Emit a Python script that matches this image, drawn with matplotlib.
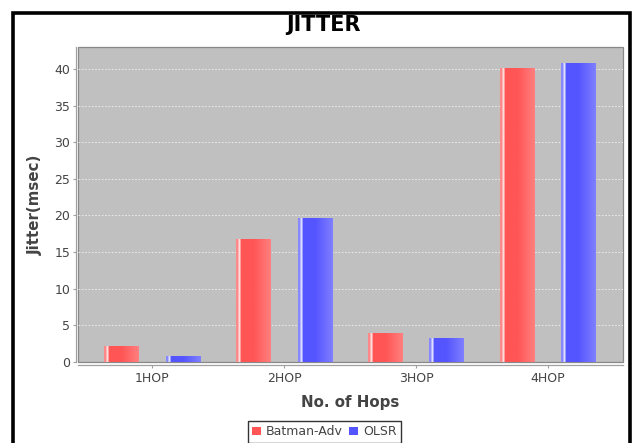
import numpy as np
import matplotlib
matplotlib.use("Agg")
import matplotlib.pyplot as plt
from matplotlib.patches import Rectangle, Patch
from matplotlib.colors import to_rgb

# data
hops = ["1HOP", "2HOP", "3HOP", "4HOP"]
batman = [2.05, 16.7, 3.95, 40.05]
olsr = [0.7, 19.65, 3.15, 40.8]
series_names = ["Batman-Adv", "OLSR"]
series_colors = ["#ff5555", "#5555ff"]

W, H = 638, 443
fig = plt.figure(figsize=(W / 100, H / 100), dpi=100)

ax = fig.add_axes([78.3 / W, 1 - 362 / H, (623 - 78.3) / W, (362 - 47.3) / H])
ax.set_facecolor("#c0c0c0")
ax.patch.set_edgecolor("#888888")
ax.patch.set_linewidth(0.9)


def gradient(color):
    base = np.array(to_rgb(color))
    white = np.ones(3)
    u = np.linspace(0, 1, 200)
    mix = np.zeros_like(u)
    mix[u < 0.07] = 0.3
    mix[(u >= 0.07) & (u < 0.13)] = 0.8
    mix[(u >= 0.13) & (u < 0.5)] = 0.0
    right = u >= 0.5
    mix[right] = (u[right] - 0.5) / 0.5 * 0.25
    rgb = base[None, :] * (1 - mix[:, None]) + white[None, :] * mix[:, None]
    return rgb[None, :, :]


x = np.arange(len(hops))
width = 0.261
offset = 0.233
for vals, off, col in [(batman, -offset, series_colors[0]), (olsr, offset, series_colors[1])]:
    bars = ax.bar(x + off, vals, width, color=col, zorder=2)
    img = gradient(col)
    for p in bars:
        x0, w, h = p.get_x(), p.get_width(), p.get_height()
        ax.imshow(img, extent=[x0, x0 + w, 0, h], aspect="auto",
                  interpolation="bilinear", zorder=2.5)

ax.set_xlim(-0.561, 3.571)
ax.set_ylim(0, 42.95)
ax.set_yticks(np.arange(0, 41, 5))
ax.set_xticks(x)
ax.set_xticklabels(hops)
ax.yaxis.grid(True, color="#f0f0f0", linestyle=(0, (2, 2)), linewidth=0.6, zorder=1)
ax.set_axisbelow(True)

for s in ["top", "right"]:
    ax.spines[s].set_visible(False)
ax.spines["left"].set_position(("outward", 1.3))
ax.spines["bottom"].set_position(("outward", 2.5))
for s in ["left", "bottom"]:
    ax.spines[s].set_color("#a0a0a0")
    ax.spines[s].set_linewidth(0.9)
ax.tick_params(axis="both", colors="#a0a0a0", length=2.5, width=0.8,
               labelsize=9, labelcolor="#444444", pad=2)

fig.text(323 / W, 1 - 25 / H, "JITTER", ha="center", va="center",
         fontsize=15, fontweight="bold", color="black")
fig.text(35 / W, 1 - 205 / H, "Jitter(msec)", ha="center", va="center",
         rotation=90, fontsize=10.8, fontweight="bold", color="#444444")
fig.text(350.5 / W, 1 - 403 / H, "No. of Hops", ha="center", va="center",
         fontsize=10.8, fontweight="bold", color="#444444")

handles = [Patch(facecolor=c, edgecolor="none") for c in series_colors]
leg = fig.legend(handles, series_names, loc="upper center", ncol=2,
                 bbox_to_anchor=(324.5 / W, 1 - 421 / H), fontsize=9,
                 frameon=True, fancybox=False, handlelength=0.7, handleheight=0.7,
                 handletextpad=0.4, columnspacing=0.5, borderpad=0.35,
                 borderaxespad=0)
leg.get_frame().set_edgecolor("black")
leg.get_frame().set_linewidth(1.0)
for t in leg.get_texts():
    t.set_color("#444444")

# black frame around the whole chart
fig.add_artist(Rectangle((12.5 / W, -0.1), (630 - 12.5) / W, 1 - 12.5 / H + 0.1,
                         transform=fig.transFigure, fill=False,
                         edgecolor="black", linewidth=2.6))

fig.savefig("out.png", dpi=100)
